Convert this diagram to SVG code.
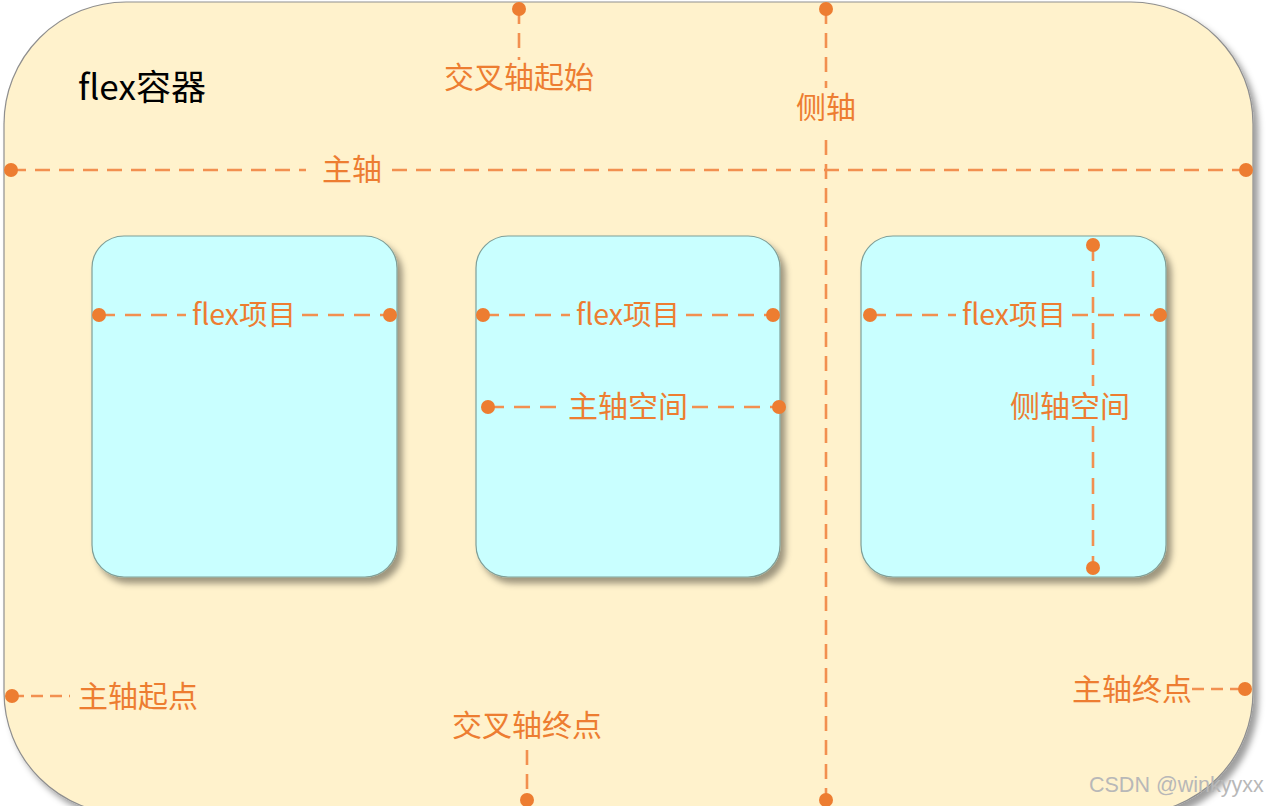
<svg xmlns="http://www.w3.org/2000/svg" width="1274" height="806" viewBox="0 0 1274 806">
<defs>
<filter id="sh" x="-10%" y="-10%" width="125%" height="125%">
<feDropShadow dx="5" dy="6" stdDeviation="3" flood-color="#000" flood-opacity="0.38"/>
</filter>
<style>
.cont{fill:#FFF2CC;stroke:#8f8f8f;stroke-width:1.2}
.item{fill:#C9FFFF;stroke:#7f9f98;stroke-width:1.2}
.dash{stroke:#F29050;stroke-width:2.6;stroke-dasharray:15 9;fill:none}
.dot{fill:#ED7D31}
.lbl{font-family:"Noto Sans CJK SC","Noto Sans",sans-serif;font-size:30px;fill:#ED7D31}
.sm{font-size:28.5px}
.big{font-family:"Noto Sans CJK SC","Noto Sans",sans-serif;font-size:35px;fill:#000}
.wm{font-family:"Liberation Sans",sans-serif;font-size:21.5px;fill:#b8b8b8}
</style>
</defs>
<g id="container">
<rect class="cont" x="4" y="2" width="1249" height="812" rx="122" ry="122" filter="url(#sh)"/>
<text class="big" x="78" y="100">flex容器</text>
</g>
<g id="item1"><rect class="item" x="92" y="236" width="305" height="341" rx="32" filter="url(#sh)"/></g>
<g id="item2"><rect class="item" x="476" y="236" width="304" height="341" rx="32" filter="url(#sh)"/></g>
<g id="item3"><rect class="item" x="861" y="236" width="305" height="341" rx="32" filter="url(#sh)"/></g>
<g id="connectors">
<path class="dash" d="M11 170H306M392 170H1246"/>
<circle class="dot" cx="11" cy="170" r="7"/><circle class="dot" cx="1246" cy="170" r="7"/>
<path class="dash" d="M826 9V88M826 140V800"/>
<circle class="dot" cx="826" cy="9" r="7"/><circle class="dot" cx="826" cy="800" r="7"/>
<path class="dash" d="M519 9V60"/>
<circle class="dot" cx="519" cy="9" r="7"/>
<path class="dash" d="M527 750V800"/>
<circle class="dot" cx="527" cy="800" r="7"/>
<path class="dash" d="M12 696H70" style="stroke-dasharray:12 7"/>
<circle class="dot" cx="12" cy="696" r="7"/>
<path class="dash" d="M1192 689H1245" style="stroke-dasharray:12 7"/>
<circle class="dot" cx="1245" cy="689" r="7"/>
<path class="dash" d="M99 315H186M302 315H390" style="stroke-dasharray:16 10"/>
<circle class="dot" cx="99" cy="315" r="7"/><circle class="dot" cx="390" cy="315" r="7"/>
<path class="dash" d="M483 315H570M686 315H773" style="stroke-dasharray:16 10"/>
<circle class="dot" cx="483" cy="315" r="7"/><circle class="dot" cx="773" cy="315" r="7"/>
<path class="dash" d="M488 407H564M692 407H779" style="stroke-dasharray:16 10"/>
<circle class="dot" cx="488" cy="407" r="7"/><circle class="dot" cx="779" cy="407" r="7"/>
<path class="dash" d="M870 315H956M1072 315H1160" style="stroke-dasharray:16 10"/>
<circle class="dot" cx="870" cy="315" r="7"/><circle class="dot" cx="1160" cy="315" r="7"/>
<path class="dash" d="M1093 245V386M1093 426V568" style="stroke-dasharray:16 10"/>
<circle class="dot" cx="1093" cy="245" r="7"/><circle class="dot" cx="1093" cy="568" r="7"/>
</g>
<g id="labels">
<text class="lbl" x="352" y="180" text-anchor="middle">主轴</text>
<text class="lbl" x="826" y="118" text-anchor="middle">侧轴</text>
<text class="lbl" x="519" y="88" text-anchor="middle">交叉轴起始</text>
<text class="lbl" x="527" y="736" text-anchor="middle">交叉轴终点</text>
<text class="lbl" x="78" y="707">主轴起点</text>
<text class="lbl" x="1072" y="700">主轴终点</text>
<text class="lbl sm" x="244" y="325" text-anchor="middle">flex项目</text>
<text class="lbl sm" x="628" y="325" text-anchor="middle">flex项目</text>
<text class="lbl sm" x="1014" y="325" text-anchor="middle">flex项目</text>
<text class="lbl" x="628" y="417" text-anchor="middle">主轴空间</text>
<text class="lbl" x="1070" y="417" text-anchor="middle">侧轴空间</text>
<text class="wm" x="1089" y="792">CSDN @winkyyxx</text>
</g>
</svg>
